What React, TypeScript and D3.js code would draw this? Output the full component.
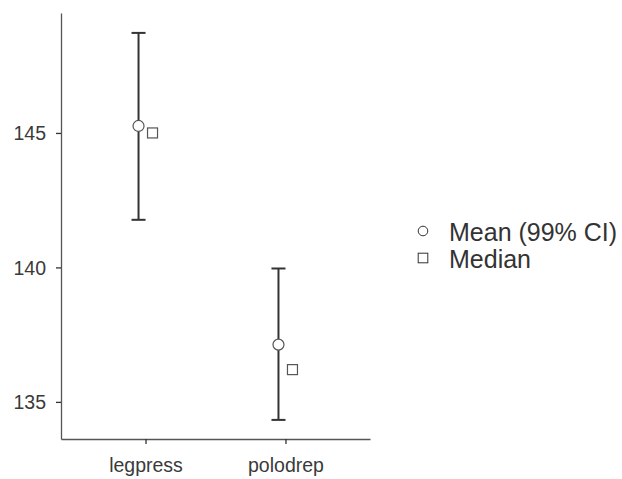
import React, { useEffect, useRef } from 'react';
import * as d3 from 'd3';

const categories = ['legpress', 'polodrep'];
const means = [145.26, 137.13];
const medians = [145.0, 136.2];
const ciLower = [141.77, 134.33];
const ciUpper = [148.72, 139.96];
const yTicks = [135, 140, 145];
const legendLabels = ['Mean (99% CI)', 'Median'];

const App = () => {
  const svgRef = useRef<SVGSVGElement>(null);

  useEffect(() => {
    const width = 622;
    const height = 479;
    const margin = { top: 13, right: 252, bottom: 40, left: 61 };
    const font = 'Arial, "Liberation Sans", sans-serif';

    const svg = d3.select(svgRef.current);
    svg.selectAll('*').remove();
    svg.attr('width', width).attr('height', height);

    const x = d3.scalePoint()
      .domain(categories)
      .range([margin.left, width - margin.right])
      .padding(0.604);

    const y = d3.scaleLinear()
      .domain([133.62, 149.46])
      .range([height - margin.bottom, margin.top]);

    // y axis
    const yAxis = svg.append('g')
      .attr('transform', `translate(${margin.left},0)`)
      .call(d3.axisLeft(y).tickValues(yTicks).tickSize(5).tickPadding(10).tickSizeOuter(0));
    yAxis.select('.domain').attr('stroke', '#555').attr('stroke-width', 1.3);
    yAxis.selectAll('.tick line').attr('stroke', '#333').attr('stroke-width', 1.3);
    yAxis.selectAll('.tick text')
      .attr('fill', '#3a3a3a')
      .attr('dy', '0.36em')
      .style('font-family', font)
      .style('font-size', '19.5px');

    // x axis
    const xAxis = svg.append('g')
      .attr('transform', `translate(0,${height - margin.bottom})`)
      .call(d3.axisBottom(x).tickSize(5).tickPadding(14).tickSizeOuter(0));
    xAxis.select('.domain').attr('stroke', '#555').attr('stroke-width', 1.3);
    xAxis.selectAll('.tick line').attr('stroke', '#333').attr('stroke-width', 1.3);
    xAxis.selectAll('.tick text')
      .attr('fill', '#3a3a3a')
      .style('font-family', font)
      .style('font-size', '19.5px');

    const data = categories.map((c, i) => ({
      c, mean: means[i], median: medians[i], lo: ciLower[i], hi: ciUpper[i],
    }));

    const offset = 7;
    const capHalf = 7;

    // error bars
    const bars = svg.append('g').selectAll('g').data(data).join('g');
    bars.append('line')
      .attr('x1', d => x(d.c)! - offset)
      .attr('x2', d => x(d.c)! - offset)
      .attr('y1', d => y(d.lo))
      .attr('y2', d => y(d.hi))
      .attr('stroke', '#333')
      .attr('stroke-width', 2);
    [(d: any) => d.lo, (d: any) => d.hi].forEach(acc => {
      bars.append('line')
        .attr('x1', d => x(d.c)! - offset - capHalf)
        .attr('x2', d => x(d.c)! - offset + capHalf)
        .attr('y1', d => y(acc(d)))
        .attr('y2', d => y(acc(d)))
        .attr('stroke', '#333')
        .attr('stroke-width', 2);
    });

    // means
    svg.append('g').selectAll('circle').data(data).join('circle')
      .attr('cx', d => x(d.c)! - offset)
      .attr('cy', d => y(d.mean))
      .attr('r', 5.5)
      .attr('fill', 'white')
      .attr('stroke', '#555')
      .attr('stroke-width', 1.2);

    // medians
    svg.append('g').selectAll('rect').data(data).join('rect')
      .attr('x', d => x(d.c)! + offset - 5)
      .attr('y', d => y(d.median) - 5)
      .attr('width', 10)
      .attr('height', 10)
      .attr('fill', 'white')
      .attr('stroke', '#555')
      .attr('stroke-width', 1.2);

    // legend
    const legend = svg.append('g').attr('transform', 'translate(423,231)');
    legend.append('circle')
      .attr('cx', 0).attr('cy', 0).attr('r', 4.8)
      .attr('fill', 'white').attr('stroke', '#333').attr('stroke-width', 1);
    legend.append('rect')
      .attr('x', -4.8).attr('y', 22.2).attr('width', 9.6).attr('height', 9.6)
      .attr('fill', 'white').attr('stroke', '#333').attr('stroke-width', 1);
    legend.selectAll('text').data(legendLabels).join('text')
      .attr('x', 26)
      .attr('y', (d, i) => i * 27 + 10)
      .attr('fill', '#333')
      .style('font-family', font)
      .style('font-size', '25px')
      .text(d => d);
  }, []);

  return <svg ref={svgRef} style={{ position: 'absolute', left: 0, top: 0 }}></svg>;
};

export default App;
